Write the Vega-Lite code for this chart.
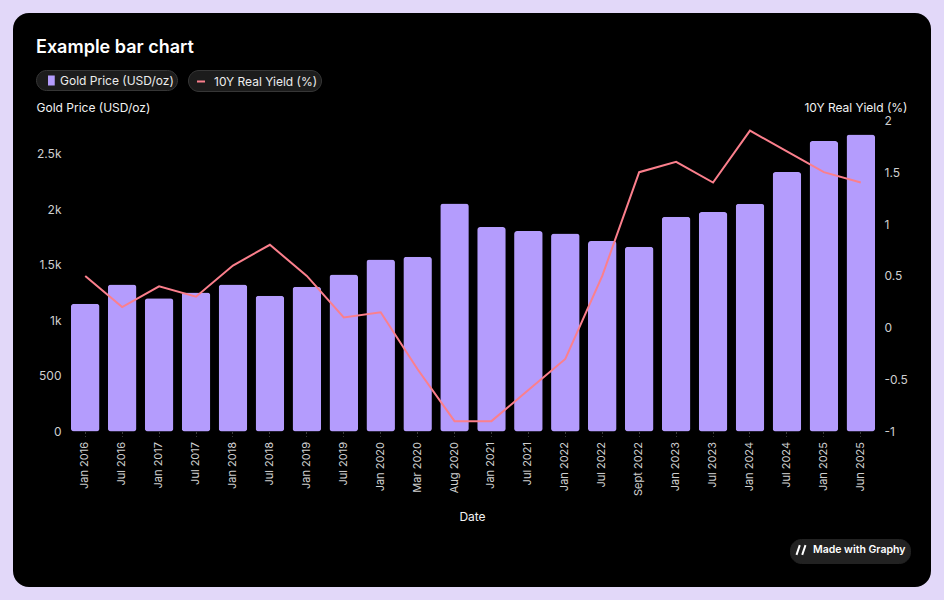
{
  "$schema": "https://vega.github.io/schema/vega-lite/v6.json",
  "width": 918,
  "height": 574,
  "autosize": "none",
  "padding": 13,
  "background": "#e2d8f9",
  "title": {
    "text": "Example bar chart",
    "anchor": "start",
    "frame": "group",
    "orient": "top",
    "offset": 0,
    "dx": 23,
    "dy": 58,
    "baseline": "alphabetic",
    "color": "#ffffff",
    "font": "Inter",
    "fontSize": 18,
    "fontWeight": 600
  },
  "config": {
    "font": "Inter",
    "view": {"fill": "#000000", "stroke": null, "cornerRadius": 16},
    "axis": {
      "grid": false,
      "domain": false,
      "labelColor": "#cfcfcf",
      "labelFont": "Inter",
      "labelFontSize": 12,
      "labelOverlap": false,
      "labelFlush": false,
      "titleColor": "#f2f2f2",
      "titleFont": "Inter",
      "titleFontSize": 12,
      "titleFontWeight": "normal"
    },
    "legend": {
      "orient": "none",
      "title": null,
      "labelColor": "#ededed",
      "labelFont": "Inter",
      "labelFontSize": 12,
      "fillColor": "#1c1c1c",
      "strokeColor": "#363636",
      "cornerRadius": 11,
      "padding": 3,
      "labelOffset": 6
    }
  },
  "data": {
    "values": [
      {"date": "Jan 2016", "gold": 1149, "yield": 0.5},
      {"date": "Jul 2016", "gold": 1323, "yield": 0.2},
      {"date": "Jan 2017", "gold": 1200, "yield": 0.4},
      {"date": "Jul 2017", "gold": 1251, "yield": 0.3},
      {"date": "Jan 2018", "gold": 1323, "yield": 0.6},
      {"date": "Jul 2018", "gold": 1221, "yield": 0.8},
      {"date": "Jan 2019", "gold": 1302, "yield": 0.5},
      {"date": "Jul 2019", "gold": 1413, "yield": 0.1},
      {"date": "Jan 2020", "gold": 1548, "yield": 0.15},
      {"date": "Mar 2020", "gold": 1572, "yield": -0.4},
      {"date": "Aug 2020", "gold": 2052, "yield": -0.9},
      {"date": "Jan 2021", "gold": 1839, "yield": -0.9},
      {"date": "Jul 2021", "gold": 1803, "yield": -0.6},
      {"date": "Jan 2022", "gold": 1782, "yield": -0.3},
      {"date": "Jul 2022", "gold": 1713, "yield": 0.5},
      {"date": "Sept 2022", "gold": 1662, "yield": 1.5},
      {"date": "Jan 2023", "gold": 1932, "yield": 1.6},
      {"date": "Jul 2023", "gold": 1974, "yield": 1.4},
      {"date": "Jan 2024", "gold": 2049, "yield": 1.9},
      {"date": "Jul 2024", "gold": 2334, "yield": 1.7},
      {"date": "Jan 2025", "gold": 2613, "yield": 1.5},
      {"date": "Jun 2025", "gold": 2673, "yield": 1.4}
    ]
  },
  "encoding": {
    "x": {
      "field": "date",
      "type": "nominal",
      "sort": null,
      "scale": {"range": [55, 865], "paddingInner": 0.227, "paddingOuter": 0.08},
      "axis": {
        "orient": "bottom",
        "offset": -155.5,
        "title": "Date",
        "titleX": 459,
        "titleY": 88.5,
        "titleBaseline": "alphabetic",
        "labelAngle": -90,
        "labelFontSize": 11,
        "labelPadding": 5,
        "ticks": true,
        "tickSize": 5,
        "tickColor": "#3a3a3a",
        "tickDash": [2, 2]
      }
    }
  },
  "layer": [
    {
      "mark": {"type": "bar", "cornerRadius": 3},
      "encoding": {
        "y": {
          "field": "gold",
          "type": "quantitative",
          "scale": {"domain": [-1399, 3765.4], "nice": false, "zero": false},
          "axis": {
            "orient": "left",
            "offset": -55,
            "values": [0, 500, 1000, 1500, 2000, 2500],
            "labelExpr": "datum.value < 1000 ? datum.value + '' : (datum.value / 1000) + 'k'",
            "ticks": false,
            "labelPadding": 7,
            "title": "Gold Price (USD/oz)",
            "titleAngle": 0,
            "titleAlign": "left",
            "titleBaseline": "alphabetic",
            "titleX": -32,
            "titleY": 98
          }
        },
        "color": {
          "datum": "Gold Price (USD/oz)",
          "type": "nominal",
          "scale": {"range": ["#b49cfd"]},
          "legend": {
            "legendX": 23,
            "legendY": 57,
            "symbolType": "M0.2,-0.667H1.1V0.667H0.2Z",
            "symbolSize": 225,
            "symbolStrokeWidth": 0,
            "labelExpr": "datum.label + '  '"
          }
        }
      }
    },
    {
      "mark": {"type": "line", "strokeWidth": 2},
      "encoding": {
        "y": {
          "field": "yield",
          "type": "quantitative",
          "scale": {"domain": [-2.499, 3.0344], "nice": false, "zero": false},
          "axis": {
            "orient": "right",
            "offset": -53,
            "values": [-1, -0.5, 0, 0.5, 1, 1.5, 2],
            "labelExpr": "datum.value + ''",
            "ticks": false,
            "labelPadding": 6,
            "title": "10Y Real Yield (%)",
            "titleAngle": 0,
            "titleAlign": "right",
            "titleBaseline": "alphabetic",
            "titleX": 29,
            "titleY": 98
          }
        },
        "stroke": {
          "datum": "10Y Real Yield (%)",
          "type": "nominal",
          "scale": {"range": ["#fb7f8c"]},
          "legend": {
            "legendX": 175,
            "legendY": 57,
            "symbolType": "M-0.333,0H0.733",
            "symbolSize": 225,
            "symbolStrokeWidth": 2,
            "symbolFillColor": "transparent",
            "labelExpr": "datum.label + ' '"
          }
        },
        "opacity": {
          "datum": "Made with Graphy",
          "type": "nominal",
          "scale": {"range": [1]},
          "legend": {
            "legendX": 777,
            "legendY": 526,
            "fillColor": "#222222",
            "strokeColor": "#222222",
            "padding": 4,
            "symbolType": "M-0.75,0.8L-0.2,-0.8M0.2,0.8L0.75,-0.8",
            "symbolSize": 144,
            "symbolStrokeWidth": 2,
            "symbolStrokeColor": "#ffffff",
            "symbolFillColor": "transparent",
            "labelColor": "#ffffff",
            "labelFontSize": 10.5,
            "labelFontWeight": 600,
            "labelOffset": 5
          }
        }
      }
    }
  ],
  "resolve": {"scale": {"y": "independent"}}
}
